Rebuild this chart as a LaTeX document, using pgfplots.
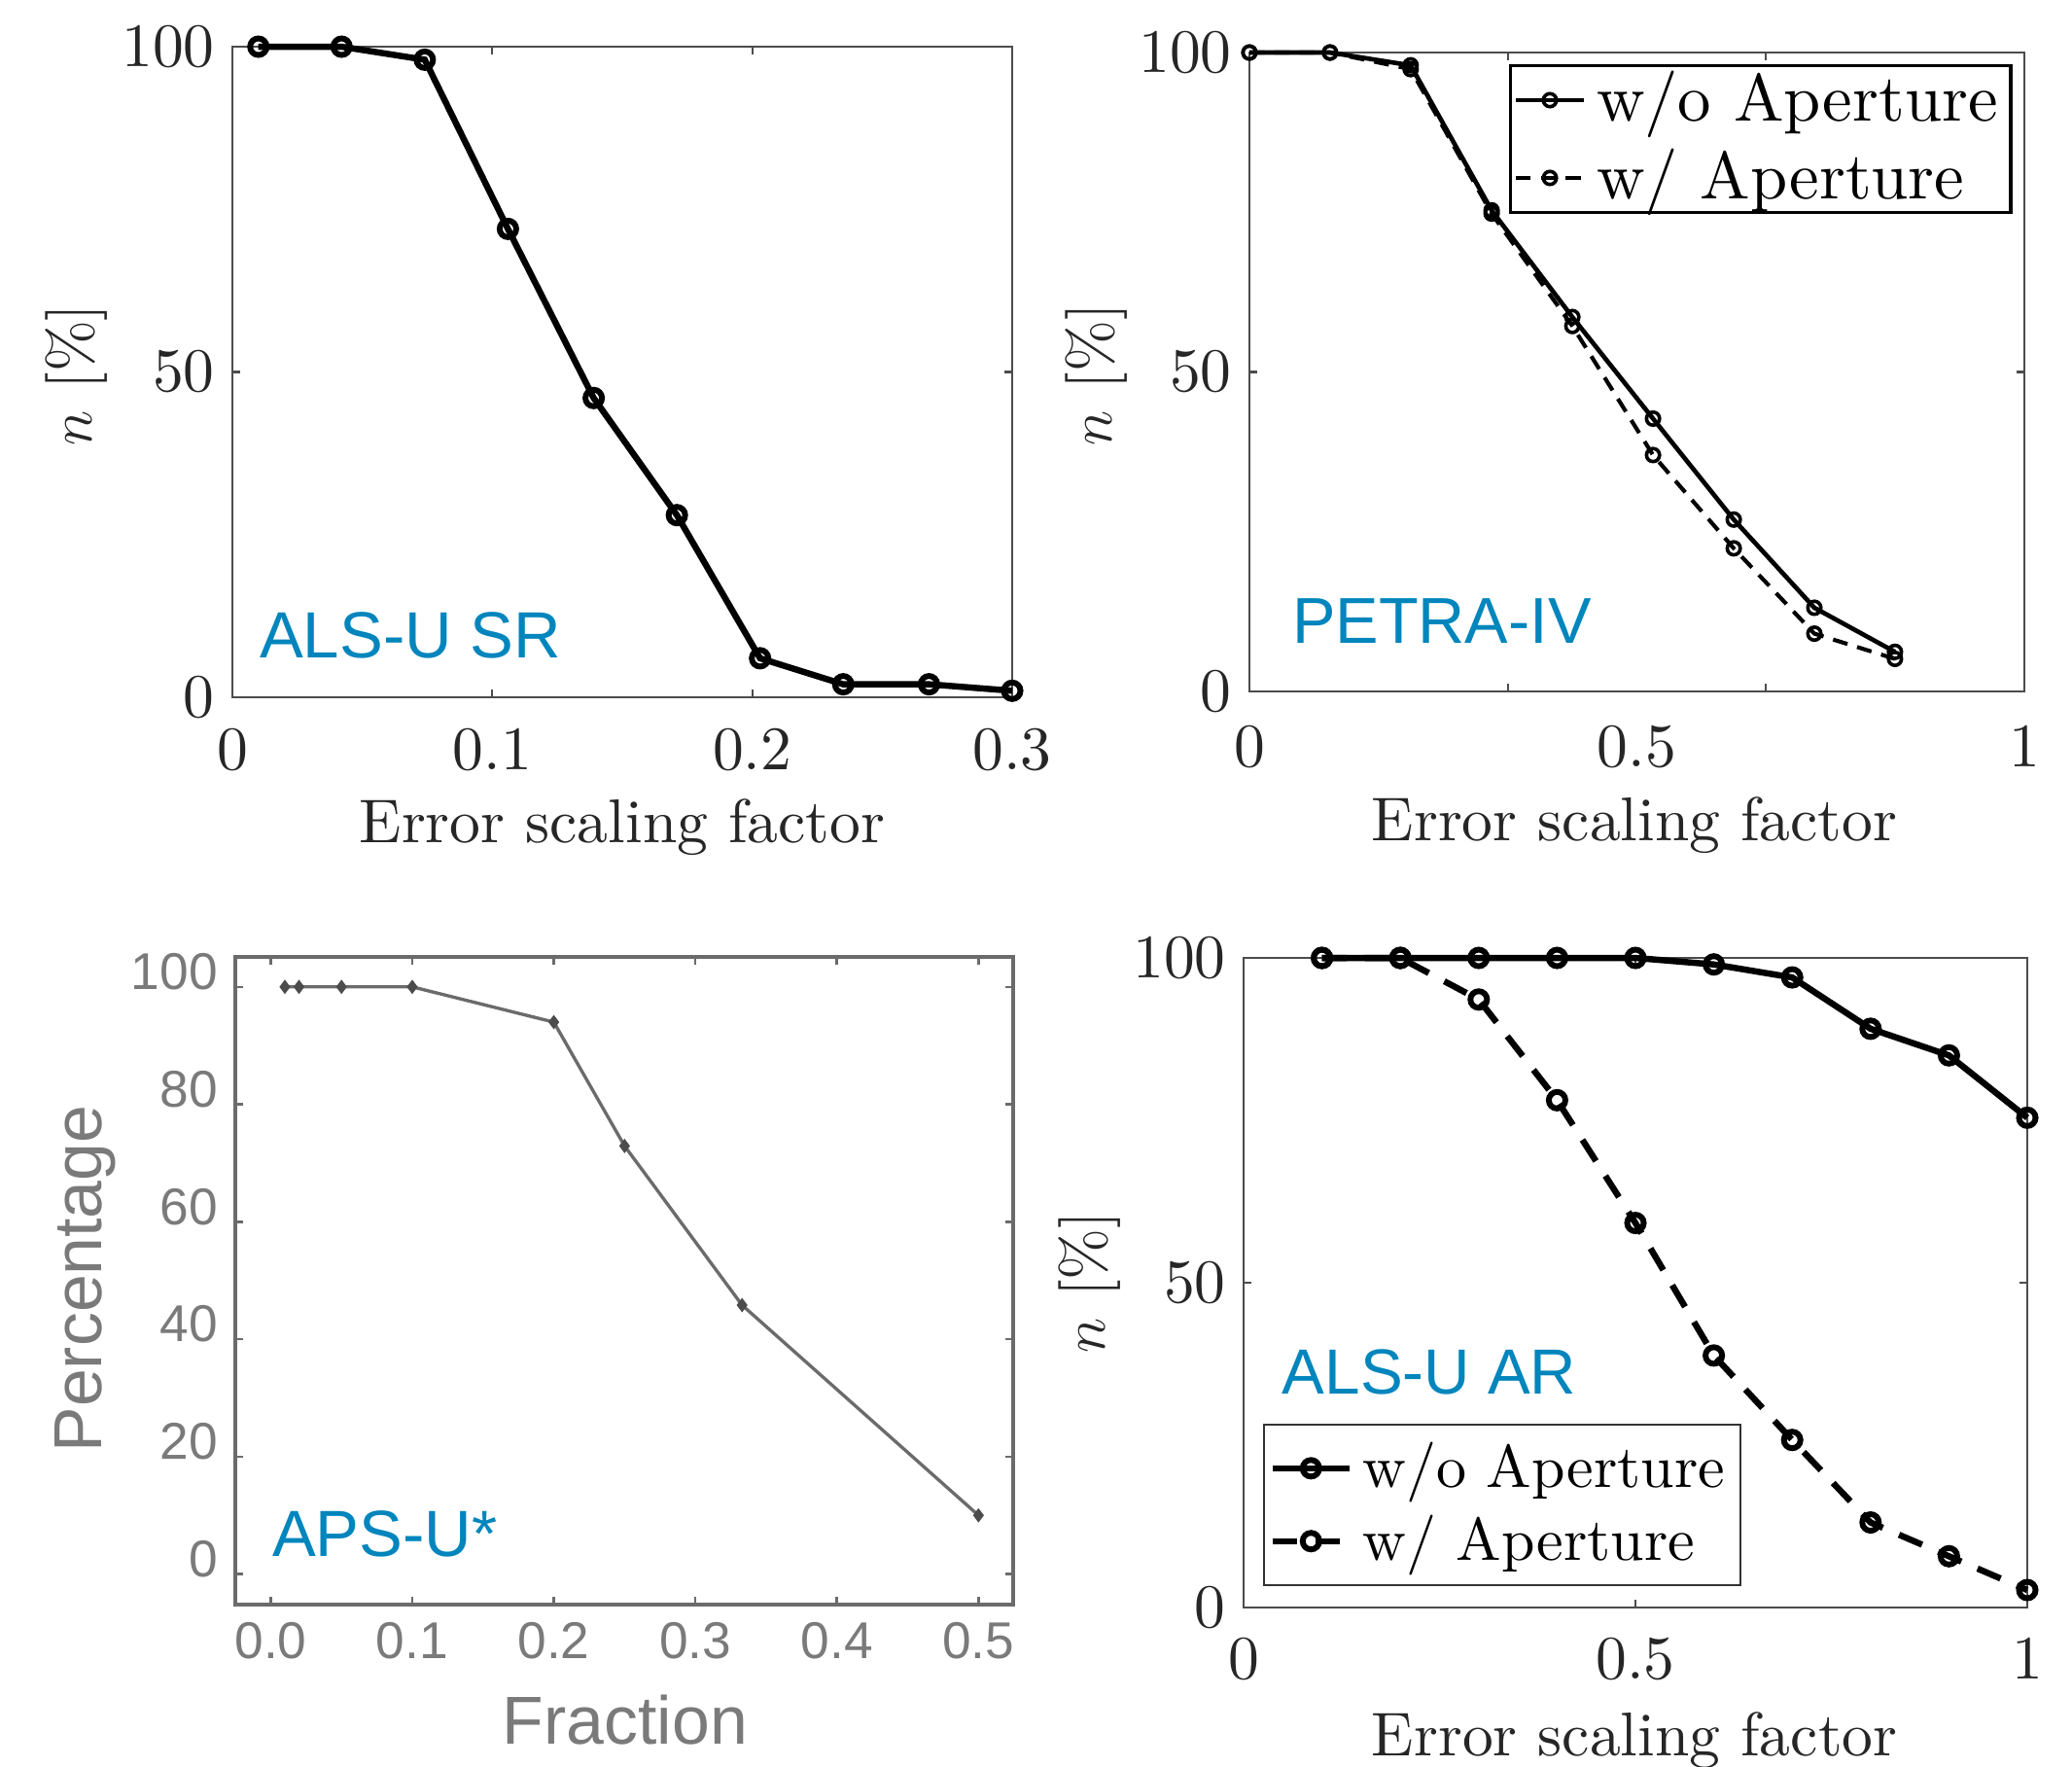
\documentclass[border=0pt]{standalone}
\usepackage{fontspec}
\setmainfont{lmroman10-regular}[Extension=.otf, ItalicFont=lmroman10-italic, BoldFont=lmroman10-bold]
\usepackage{pgfplots}
\pgfplotsset{compat=1.18}
\newfontfamily\arial{Liberation Sans}
\definecolor{lblue}{RGB}{0,133,188}
\definecolor{axc}{gray}{0.3}
\definecolor{apsgray}{gray}{0.42}

\pgfplotsset{
  mat/.style={
    scale only axis, clip=false,
    axis line style={draw=axc, line width=0.4pt},
    every tick/.style={draw=axc, line width=0.4pt},
    major tick length=1.6pt,
    tick align=inside,
    /pgf/number format/assume math mode=true,
    ticklabel style={font=\fontsize{12.3}{14}\selectfont, text=black!85},
    label style={font=\fontsize{12.3}{14}\selectfont, text=black!85},
    legend image code/.code={\draw[mark repeat=2,mark phase=2,##1] plot coordinates {(0cm,0cm) (0.27cm,0cm) (0.54cm,0cm)};},
  },
  s1/.style={black, line width=1.25pt, mark=o, mark size=1.65pt, mark options={solid, line width=1.15pt}},
}

\begin{document}
\begin{tikzpicture}
\useasboundingbox (0,0) rectangle (412.35pt,-351.40pt);

% ---------- Panel 1: ALS-U SR
\begin{axis}[mat,
  at={(46.25pt,-9.29pt)}, anchor=north west,
  width=155.19pt, height=129.45pt,
  xmin=0, xmax=0.3, ymin=0, ymax=100,
  xtick={0,0.1,0.2,0.3}, ytick={0,50,100},
  xticklabels={0,0.1,0.2,0.3},
  yticklabels={0,50,100},
  xticklabel style={yshift=-2.6pt},
  xlabel={Error scaling factor},
  ylabel={$n$ [\%]},
  xlabel style={at={(axis description cs:0.5,-0.224)}, anchor=base},
  ylabel style={at={(axis description cs:-0.200,0.496)}, anchor=center},
]
\addplot[s1] coordinates {(0.01,100)(0.042,100)(0.074,98)(0.106,72)(0.139,46)(0.171,28)(0.203,6)(0.235,2)(0.268,2)(0.3,1)};
\node[anchor=base west, inner sep=0pt, text=lblue, font=\arial\fontsize{13}{15}\selectfont] at (axis cs:0.0101,6) {ALS-U SR};
\end{axis}

% ---------- Panel 2: PETRA-IV
\begin{axis}[mat,
  at={(248.65pt,-10.45pt)}, anchor=north west,
  width=154.22pt, height=127.13pt,
  xmin=0, xmax=1, ymin=0, ymax=100,
  xtick={0.3333,0.6667}, xticklabels={},
  extra x ticks={0,0.5,1}, extra x tick labels={0,0.5,1},
  extra x tick style={major tick length=0pt, xticklabel style={yshift=-3.2pt}},
  ytick={0,50,100}, yticklabels={0,50,100},
  xlabel={Error scaling factor},
  ylabel={$n$ [\%]},
  xlabel style={at={(axis description cs:0.497,-0.234)}, anchor=base},
  ylabel style={at={(axis description cs:-0.197,0.496)}, anchor=center},
  legend image code/.code={\draw[mark repeat=2,mark phase=2,#1] plot coordinates {(0cm,0cm) (0.24cm,0cm) (0.48cm,0cm)};},
  legend style={at={(axis description cs:0.985,0.982)}, anchor=north east,
     draw=black, line width=0.7pt, fill=white, font=\fontsize{13.3}{15}\selectfont,
     inner xsep=0.6pt, inner ysep=1.1pt, row sep=4pt,
     nodes={inner xsep=2pt, inner ysep=0pt}},
  legend cell align=left,
]
\addplot[black, line width=0.9pt, mark=o, mark size=1.3pt, mark options={solid, line width=0.7pt}] coordinates {(0,100)(0.104,100)(0.208,98)(0.3125,75.3)(0.4167,58.6)(0.5208,42.7)(0.625,26.9)(0.729,13.1)(0.833,6.2)};
\addlegendentry{w/o Aperture}
\addplot[black, line width=0.8pt, dash pattern=on 3pt off 2pt, mark=o, mark size=1.3pt, mark options={solid, line width=0.7pt}] coordinates {(0,100)(0.104,100)(0.208,97.4)(0.3125,74.8)(0.4167,57.2)(0.5208,37)(0.625,22.4)(0.729,9.05)(0.833,5.1)};
\addlegendentry{w/ Aperture\rule[-8.4pt]{0pt}{1pt}}
\node[anchor=base west, inner sep=0pt, text=lblue, font=\arial\fontsize{12.9}{15}\selectfont] at (axis cs:0.054,7.5) {PETRA-IV};
\end{axis}

% ---------- Panel 3: APS-U*
\begin{axis}[
  scale only axis, clip=false,
  at={(46.83pt,-190.40pt)}, anchor=north west,
  width=154.8pt, height=128.87pt,
  xmin=-0.025, xmax=0.5245, ymin=-5.2, ymax=105.1,
  xtick={0,0.1,0.2,0.3,0.4,0.5}, ytick={0,20,40,60,80,100},
  axis line style={draw=apsgray, line width=0.65pt},
  every tick/.style={draw=apsgray, line width=0.5pt},
  major tick length=1.6pt, tick align=inside,
  /pgf/number format/assume math mode=true,
  xticklabel style={/pgf/number format/.cd, fixed, fixed zerofill, precision=1},
  ticklabel style={font=\arial\fontsize{10.3}{12}\selectfont, text=black!52},
  yticklabel style={yshift=3pt},
  label style={font=\arial\fontsize{13.5}{15}\selectfont, text=black!52},
  xlabel={Fraction}, ylabel={Percentage},
  xlabel style={at={(axis description cs:0.501,-0.216)}, anchor=base},
  ylabel style={at={(axis description cs:-0.1925,0.503)}, anchor=center},
]
\addplot[apsgray, line width=0.65pt, mark=diamond*, mark size=0.9pt, mark options={fill=black!70, draw=black!70}] coordinates {(0.01,100)(0.02,100)(0.05,100)(0.1,100)(0.2,94)(0.25,72.9)(0.333,45.8)(0.5,10)};
\node[anchor=base west, inner sep=0pt, text=lblue, font=\arial\fontsize{13}{15}\selectfont] at (axis cs:0.0004,3) {APS-U*};
\end{axis}

% ---------- Panel 4: ALS-U AR
\begin{axis}[mat,
  at={(247.49pt,-190.60pt)}, anchor=north west,
  width=155.96pt, height=129.26pt,
  xmin=0, xmax=1, ymin=0, ymax=100,
  xtick={0,0.5,1}, ytick={0,50,100},
  xticklabels={0,0.5,1}, yticklabels={0,50,100},
  xticklabel style={yshift=-2.4pt},
  xlabel={Error scaling factor},
  ylabel={$n$ [\%]},
  xlabel style={at={(axis description cs:0.499,-0.228)}, anchor=base},
  ylabel style={at={(axis description cs:-0.197,0.501)}, anchor=center},
  legend style={at={(axis description cs:0.025,0.033)}, anchor=south west,
     draw=black!80, line width=0.4pt, fill=white, font=\fontsize{12}{14}\selectfont,
     inner xsep=1pt, inner ysep=1.5pt, row sep=0pt,
     nodes={inner xsep=2pt}},
  legend cell align=left,
]
\addplot[s1] coordinates {(0.1,100)(0.2,100)(0.3,100)(0.4,100)(0.5,100)(0.6,99)(0.7,97)(0.8,89.1)(0.9,85)(1,75.4)};
\addlegendentry{w/o Aperture}
\addplot[s1, dash pattern=on 5pt off 3.5pt] coordinates {(0.1,100)(0.2,100)(0.3,93.6)(0.4,78.1)(0.5,59.2)(0.6,38.8)(0.7,25.8)(0.8,13.1)(0.9,7.9)(1,2.7)};
\addlegendentry{w/ Aperture}
\node[anchor=base west, inner sep=0pt, text=lblue, font=\arial\fontsize{12.7}{15}\selectfont] at (axis cs:0.048,32.8) {ALS-U AR};
\end{axis}
\end{tikzpicture}
\end{document}
